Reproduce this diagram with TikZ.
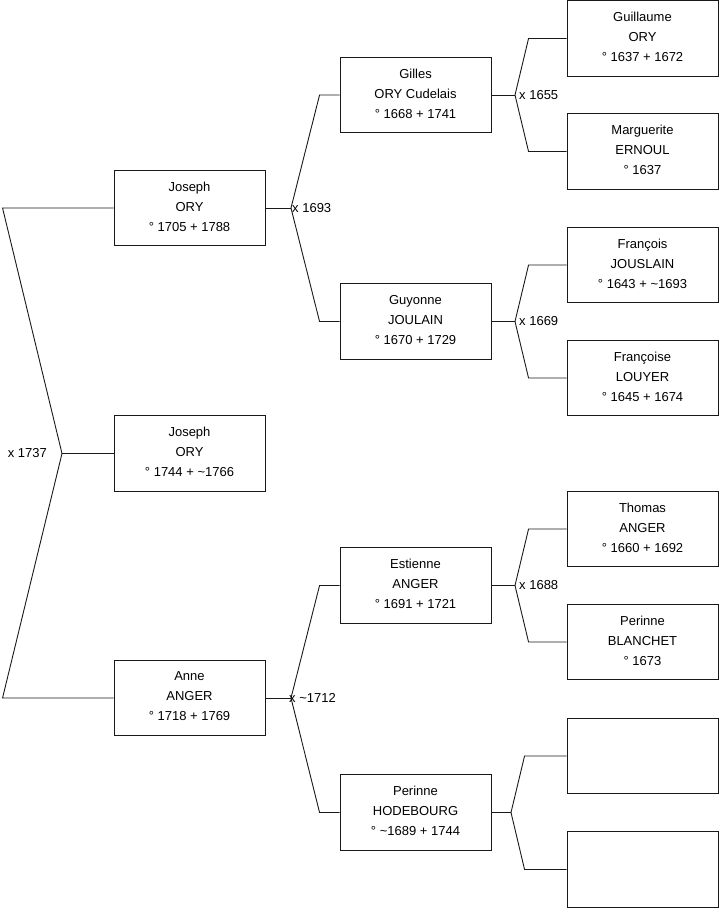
\documentclass[tikz,border=0pt]{standalone}
\usepackage{fontspec}
\setmainfont{Liberation Sans}
\begin{document}
\begin{tikzpicture}[x=1pt,y=-1pt,
  person/.style={draw=black!90,line width=0.9pt,rectangle,minimum width=151pt,minimum height=75.5pt,inner sep=0pt,
    label={[align=center,inner sep=0pt,yshift=1.5pt,font=\fontsize{13}{20}\selectfont]center:#1}},
  link/.style={draw=black!90,line width=0.9pt},
  marr/.style={inner sep=0pt,font=\fontsize{13}{15}\selectfont}]
\useasboundingbox (0,0) rectangle (719,908);
% column 1
\node[person={Joseph\\ORY\\° 1705 + 1788}] (j1) at (189.5,208) {};
\node[person={Joseph\\ORY\\° 1744 + \textasciitilde 1766}] (j2) at (189.5,453.5) {};
\node[person={Anne\\ANGER\\° 1718 + 1769}] (anne) at (189.5,698) {};
% column 2
\node[person={Gilles\\ORY Cudelais\\° 1668 + 1741}] (gilles) at (415.5,95) {};
\node[person={Guyonne\\JOULAIN\\° 1670 + 1729}] (guyonne) at (415.5,321.5) {};
\node[person={Estienne\\ANGER\\° 1691 + 1721}] (estienne) at (415.5,585.5) {};
\node[person={Perinne\\HODEBOURG\\° \textasciitilde 1689 + 1744}] (perinneH) at (415.5,812.5) {};
% column 3
\node[person={Guillaume\\ORY\\° 1637 + 1672}] (guillaume) at (642.5,38.5) {};
\node[person={Marguerite\\ERNOUL\\° 1637}] (marguerite) at (642.5,151.5) {};
\node[person={François\\JOUSLAIN\\° 1643 + \textasciitilde 1693}] (francois) at (642.5,265) {};
\node[person={Françoise\\LOUYER\\° 1645 + 1674}] (francoise) at (642.5,378) {};
\node[person={Thomas\\ANGER\\° 1660 + 1692}] (thomas) at (642.5,529) {};
\node[person={Perinne\\BLANCHET\\° 1673}] (perinneB) at (642.5,642) {};
\node[person={}] (empty1) at (642.5,756) {};
\node[person={}] (empty2) at (642.5,869.5) {};
% vertices
\coordinate (vroot) at (62,453.5);
\coordinate (vj1) at (291,208);
\coordinate (vanne) at (291,698);
\coordinate (vgilles) at (515,95);
\coordinate (vguyonne) at (515,321.5);
\coordinate (vestienne) at (515,585.5);
\coordinate (vperinneH) at (511,812.5);
% root
\draw[link] (j1.west) -- ([xshift=-111pt]j1.west) -- (vroot) -- ([xshift=-111pt]anne.west) -- (anne.west);
\draw[link] (vroot) -- (j2.west);
\node[marr,anchor=east] (m1737) at (47,453.5) {x 1737};
% Joseph -> Gilles/Guyonne
\draw[link] (j1.east) -- (vj1);
\draw[link] (gilles.west) -- ([xshift=-20pt]gilles.west) -- (vj1) -- ([xshift=-20pt]guyonne.west) -- (guyonne.west);
\node[marr,anchor=west] (m1693) at (292,208) {x 1693};
% Anne -> Estienne/Perinne
\draw[link] (anne.east) -- (vanne);
\draw[link] (estienne.west) -- ([xshift=-20pt]estienne.west) -- (vanne) -- ([xshift=-20pt]perinneH.west) -- (perinneH.west);
\node[marr,anchor=west] (m1712) at (289,698) {x \textasciitilde 1712};
% Gilles
\draw[link] (gilles.east) -- (vgilles);
\draw[link] (guillaume.west) -- ([xshift=-38pt]guillaume.west) -- (vgilles) -- ([xshift=-38pt]marguerite.west) -- (marguerite.west);
\node[marr,anchor=west] (m1655) at (519,95) {x 1655};
% Guyonne
\draw[link] (guyonne.east) -- (vguyonne);
\draw[link] (francois.west) -- ([xshift=-38pt]francois.west) -- (vguyonne) -- ([xshift=-38pt]francoise.west) -- (francoise.west);
\node[marr,anchor=west] (m1669) at (519,321.5) {x 1669};
% Estienne
\draw[link] (estienne.east) -- (vestienne);
\draw[link] (thomas.west) -- ([xshift=-38pt]thomas.west) -- (vestienne) -- ([xshift=-38pt]perinneB.west) -- (perinneB.west);
\node[marr,anchor=west] (m1688) at (519,585.5) {x 1688};
% Perinne H
\draw[link] (perinneH.east) -- (vperinneH);
\draw[link] (empty1.west) -- ([xshift=-42pt]empty1.west) -- (vperinneH) -- ([xshift=-42pt]empty2.west) -- (empty2.west);
\end{tikzpicture}
\end{document}
